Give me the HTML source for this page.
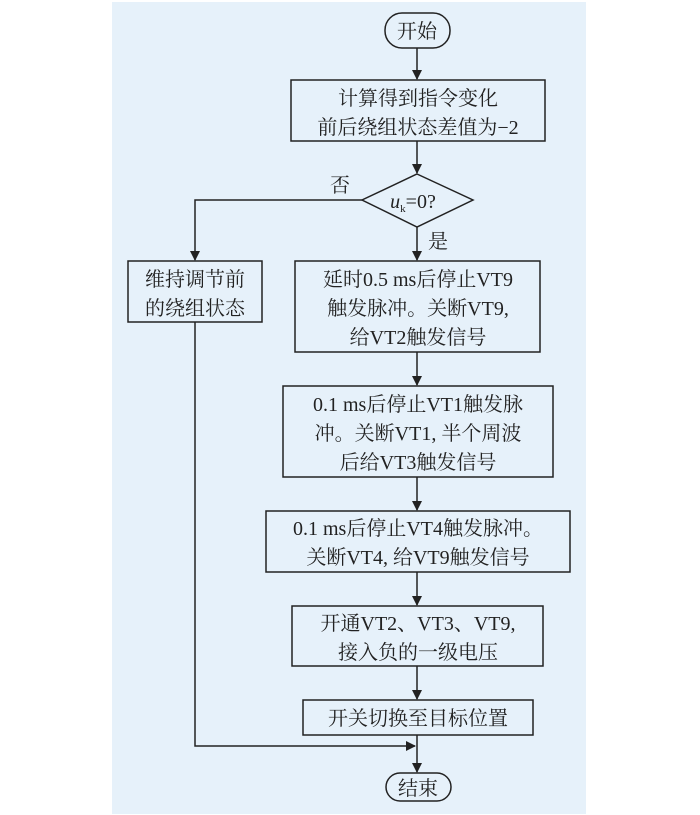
<!DOCTYPE html>
<html><head><meta charset="utf-8"><style>
body{margin:0;background:#fff;width:700px;height:815px;overflow:hidden}
svg{position:absolute;left:0;top:0}
text{font-family:"Liberation Serif","Noto Serif CJK SC",serif;font-size:20px;fill:#222}
</style></head><body>
<svg width="700" height="815" viewBox="0 0 700 815">
<defs><marker id="a" markerWidth="10" markerHeight="12" refX="9" refY="5" orient="auto" markerUnits="userSpaceOnUse"><path d="M0,0 L10,5 L0,10 z" fill="#222"/></marker></defs>
<rect x="112" y="2" width="474" height="812" fill="#e6f1fa"/>
<g stroke="#222" stroke-width="1.5" fill="none">
<rect x="385" y="13" width="65" height="35" rx="17"/>
<rect x="291" y="80" width="254" height="61"/>
<polygon points="417,174 473,200 417,227 362,200"/>
<rect x="128" y="261" width="134" height="61"/>
<rect x="295" y="261" width="245" height="91"/>
<rect x="283" y="386" width="270" height="91"/>
<rect x="266" y="511" width="304" height="61"/>
<rect x="292" y="606" width="251" height="60"/>
<rect x="303" y="700" width="230" height="35"/>
<rect x="386" y="773" width="65" height="28" rx="14"/>
<line x1="417" y1="48" x2="417" y2="79" marker-end="url(#a)"/>
<line x1="417" y1="141" x2="417" y2="173" marker-end="url(#a)"/>
<line x1="417" y1="227" x2="417" y2="260" marker-end="url(#a)"/>
<polyline points="362,200 195,200 195,260" marker-end="url(#a)"/>
<line x1="417" y1="352" x2="417" y2="385" marker-end="url(#a)"/>
<line x1="417" y1="477" x2="417" y2="510" marker-end="url(#a)"/>
<line x1="417" y1="572" x2="417" y2="605" marker-end="url(#a)"/>
<line x1="417" y1="666" x2="417" y2="699" marker-end="url(#a)"/>
<line x1="417" y1="735" x2="417" y2="772" marker-end="url(#a)"/>
<polyline points="195,322 195,746 415,746" marker-end="url(#a)"/>
</g>
<g text-anchor="middle">
<text x="417" y="38">开始</text>
<text x="418" y="105">计算得到指令变化</text>
<text x="418" y="134">前后绕组状态差值为−2</text>
<text x="413" y="208"><tspan font-style="italic">u</tspan><tspan font-size="11" dy="4">k</tspan><tspan dy="-4">=0?</tspan></text>
<text x="195" y="286">维持调节前</text>
<text x="195" y="315">的绕组状态</text>
<text x="418" y="286">延时0.5 ms后停止VT9</text>
<text x="418" y="315">触发脉冲。关断VT9,</text>
<text x="418" y="344">给VT2触发信号</text>
<text x="418" y="411">0.1 ms后停止VT1触发脉</text>
<text x="418" y="440">冲。关断VT1, 半个周波</text>
<text x="418" y="469">后给VT3触发信号</text>
<text x="418" y="535">0.1 ms后停止VT4触发脉冲。</text>
<text x="418" y="564">关断VT4, 给VT9触发信号</text>
<text x="418" y="630">开通VT2、VT3、VT9,</text>
<text x="418" y="659">接入负的一级电压</text>
<text x="418" y="725">开关切换至目标位置</text>
<text x="418" y="795">结束</text>
</g>
<text x="330" y="192">否</text>
<text x="428" y="248">是</text>
</svg>
</body></html>
